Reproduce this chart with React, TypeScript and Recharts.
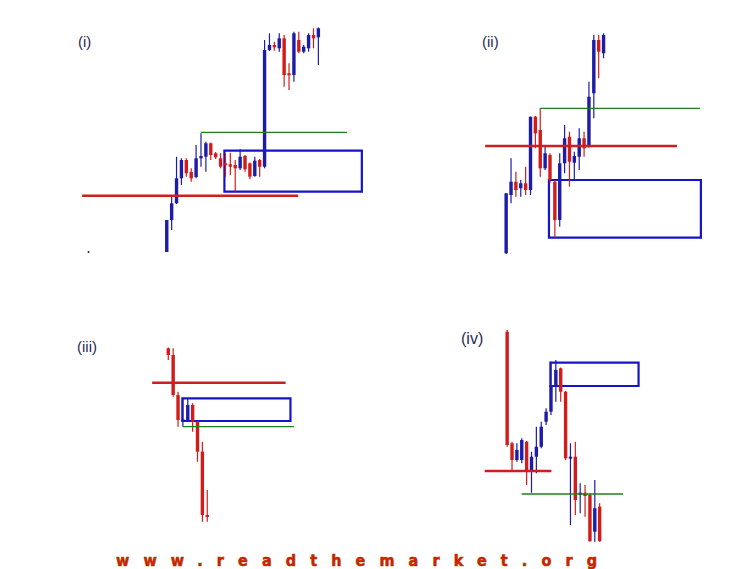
import React from 'react';
import { ComposedChart, Bar, XAxis, YAxis, ReferenceLine, ReferenceArea } from 'recharts';

// Candles: [open, high, low, close] (relative price units)
type Candle = [number, number, number, number];

const candlesI: Candle[] = [
  [8, 40, 8, 40], [40, 63.3, 30, 56.7], [56.7, 103.3, 56, 81.7], [81.7, 101.7, 75, 100],
  [100, 101.7, 83.3, 86.7], [88, 91.7, 78.3, 81.7], [83, 115, 81.7, 101.7], [101.7, 126.7, 93.3, 104],
  [103.3, 118.3, 88.3, 116.7], [116.7, 117.5, 100, 105], [106.7, 108, 101, 102.7], [101.7, 106.7, 91.7, 93.3],
  [96.7, 106.7, 83.3, 95], [95.7, 107.3, 85, 93.3], [95, 100, 68.3, 91.7], [91.7, 110.7, 90, 103.3],
  [104, 105, 88.3, 90.7], [96.7, 97.5, 80.7, 83.3], [84, 103.3, 83.3, 99.3], [100, 101, 83.3, 93.3],
  [93.3, 220, 91.7, 210], [210, 226.7, 209, 215], [215, 218.3, 209.3, 212.7], [211.7, 226.7, 208.3, 221.7],
  [221.7, 225, 173.3, 185], [186.7, 196.7, 170, 185], [185, 228.3, 178.3, 226.7], [220, 228.3, 206.7, 208.3],
  [208.3, 215, 206.7, 213.3], [211.7, 226.7, 208.3, 225], [225, 231.7, 211.7, 221.7], [222.7, 232.5, 195, 231.7],
];

const candlesII: Candle[] = [
  [6.7, 66.7, 6, 66.7], [65, 101.7, 56.7, 78.3], [78.3, 88.3, 63.3, 70], [71.7, 80, 63.3, 76.7],
  [76.7, 93.3, 65, 70], [70, 143.3, 65, 143.3], [143.3, 144, 111.7, 126.7], [130, 151.7, 83.3, 91.7],
  [91.7, 114, 90, 106.7], [105, 106.7, 76.7, 80], [78.3, 80, 23.3, 40], [40, 106.7, 33.3, 96.7],
  [96.7, 135, 86.7, 121.7], [123.3, 128.3, 73.3, 98.3], [97.3, 108.3, 80, 104], [103.3, 131.7, 90, 121.7],
  [121.7, 128.3, 103.3, 111.7], [113.3, 178.3, 112.5, 163.3], [166.7, 225, 141.7, 220], [220, 225, 181.7, 208.3],
  [206.7, 226.7, 201.7, 225],
];

const candlesIII: Candle[] = [
  [181.7, 182.5, 170, 175], [175, 181.7, 133.3, 135], [135, 138.3, 103.3, 110], [109.3, 131.7, 103.3, 110.7],
  [110, 131.7, 108.3, 125], [125, 126.7, 98.3, 108.3], [108.3, 109, 68.3, 78.3], [78.3, 88.3, 8.3, 15],
  [15, 40, 8.3, 13.3],
];

const candlesIV: Candle[] = [
  [218.3, 220, 103.3, 105], [106.7, 108.3, 80, 90], [90, 106.7, 88.3, 100], [90, 111.7, 86.7, 110],
  [108.3, 109, 65, 78.3], [80, 98.3, 57.3, 93.3], [93.3, 123.3, 76.7, 103.3], [103.3, 128.3, 101.7, 123.3],
  [128.3, 141.7, 125, 138.3], [138.3, 188.3, 135, 165], [163.3, 190, 148.3, 180], [181.7, 182.5, 148.3, 158.3],
  [158.3, 159, 90, 91.7], [91.7, 106.7, 25, 93.3], [93.3, 108.3, 35, 50], [55, 66.7, 36.7, 57.3],
  [57.3, 65, 33.3, 54], [55, 56.7, 8.3, 8.8], [18.3, 70, 8.3, 41.7], [43.3, 46.7, 8.3, 8.8],
];

// Levels: [fromIndex, toIndex, price]
const redLineI = [-16.3, 27.9, 64.3];
const greenLineI = [8, 37.9, 127.7];
const boxI = [12.8, 40.9, 109.3, 68.3];

const redLineII = [-3.3, 36.1, 114];
const greenLineII = [8, 40.8, 151.7];
const boxII = [9.8, 41, 80, 22.3];

const redLineIII = [-2.3, 25.1, 147.3];
const greenLineIII = [4, 26.8, 103.3];
const boxIII = [3.9, 26.1, 131.7, 109];

const redLineIV = [-3.6, 10.1, 79];
const greenLineIV = [4, 24.8, 56];
const boxIV = [9.9, 28, 187.3, 164];

const panelLabels = ['(i)', '(ii)', '(iii)', '(iv)'];
const watermark = 'www.readthemarket.org';

const BLUE = '#1c1ca8';
const RED = '#d21c1c';
const BOX = '#1414cc';
const GREEN = '#1f7f1f';
const REDLINE = '#cc1f1f';

const toRows = (cs: Candle[]) =>
  cs.map(([o, h, l, c], k) => ({ i: k + 1, o, h, l, c, range: [l, h] }));

const CandleShape = (props: any) => {
  const { x, y, width, height, payload } = props;
  if (!payload) return null;
  const { o, h, l, c } = payload;
  const top = Math.min(y, y + height);
  const span = Math.abs(height);
  const k = h > l ? span / (h - l) : 0;
  const yOf = (v: number) => top + (h - v) * k;
  const cx = x + width / 2;
  const color = c >= o ? BLUE : RED;
  const bTop = yOf(Math.max(o, c));
  const bBot = yOf(Math.min(o, c));
  const bh = Math.max(bBot - bTop, 2);
  return (
    <g>
      <line x1={cx} x2={cx} y1={top} y2={top + span} stroke={color} strokeWidth={1.2} />
      <rect x={cx - 1.7} y={bTop} width={3.4} height={bh} fill={color} />
    </g>
  );
};

type PanelProps = {
  candles: Candle[];
  red: number[];
  green: number[];
  box: number[];
  left: number;
  top: number;
  width: number;
  height: number;
  domain: [number, number];
};

const Panel = ({ candles, red, green, box, left, top, width, height, domain }: PanelProps) => (
  <div style={{ position: 'absolute', left, top, width, height }}>
    <ComposedChart
      width={width}
      height={height}
      data={toRows(candles)}
      margin={{ top: 0, right: 0, bottom: 0, left: 0 }}
    >
      <XAxis dataKey="i" type="number" domain={domain} hide allowDataOverflow />
      <YAxis type="number" domain={[0, height]} hide allowDataOverflow />
      <ReferenceLine
        segment={[{ x: red[0], y: red[2] }, { x: red[1], y: red[2] }]}
        stroke={REDLINE}
        strokeWidth={2.5}
        ifOverflow="visible"
      />
      <ReferenceLine
        segment={[{ x: green[0], y: green[2] }, { x: green[1], y: green[2] }]}
        stroke={GREEN}
        strokeWidth={1.3}
        ifOverflow="visible"
      />
      <ReferenceArea
        x1={box[0]}
        x2={box[1]}
        y1={box[2]}
        y2={box[3]}
        fill="none"
        fillOpacity={0}
        stroke={BOX}
        strokeWidth={2.2}
        ifOverflow="visible"
      />
      <Bar dataKey="range" barSize={3} shape={<CandleShape />} isAnimationActive={false} />
    </ComposedChart>
  </div>
);

export default function App() {
  const labelStyle = { fontFamily: 'Arial, "Liberation Sans", sans-serif', fontSize: 15, fill: '#2a2a52' };
  return (
    <div
      style={{
        position: 'absolute',
        left: 0,
        top: 0,
        width: 750,
        height: 569,
        background: '#ffffff',
        overflow: 'hidden',
      }}
    >
      <svg width={750} height={569} style={{ position: 'absolute', left: 0, top: 0 }}>
        <text x={78} y={47} {...labelStyle}>{panelLabels[0]}</text>
        <text x={482} y={47} {...labelStyle}>{panelLabels[1]}</text>
        <text x={77} y={352} {...labelStyle}>{panelLabels[2]}</text>
        <text x={461} y={344} {...labelStyle} fontSize={16}>{panelLabels[3]}</text>
        <circle cx={88.5} cy={252} r={1} fill="#222" />
        <text
          x={116}
          y={566}
          textLength={481}
          lengthAdjust="spacing"
          fontFamily='"DejaVu Sans Condensed", "DejaVu Sans", sans-serif'
          fontWeight="bold"
          fontSize={16}
          fill="#cc2200"
          stroke="#8b5a0b"
          strokeWidth={0.6}
          paintOrder="stroke"
        >
          {watermark}
        </text>
      </svg>
      <Panel candles={candlesI} red={redLineI} green={greenLineI} box={boxI}
        left={64} top={20} width={313} height={240} domain={[-20, 44]} />
      <Panel candles={candlesII} red={redLineII} green={greenLineII} box={boxII}
        left={471.9} top={20} width={243.5} height={240} domain={[-6, 44]} />
      <Panel candles={candlesIII} red={redLineIII} green={greenLineIII} box={boxIII}
        left={138.5} top={330} width={165.6} height={200} domain={[-5, 29]} />
      <Panel candles={candlesIV} red={redLineIV} green={greenLineIV} box={boxIV}
        left={473.2} top={320} width={175.3} height={230} domain={[-6, 30]} />
    </div>
  );
}
